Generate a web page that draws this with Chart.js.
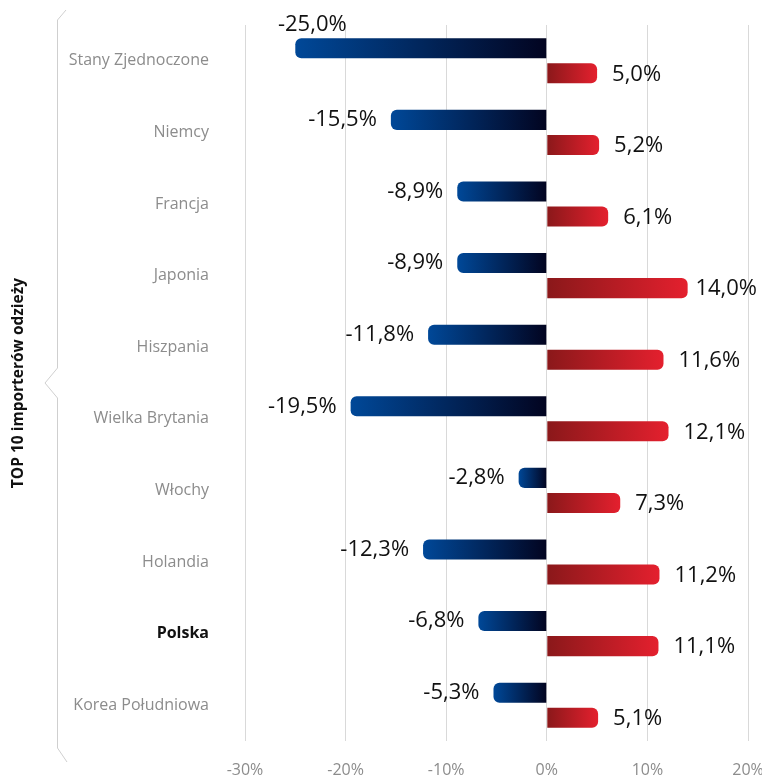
<!DOCTYPE html>
<html>
<head>
<meta charset="utf-8">
<script src="https://cdn.jsdelivr.net/npm/chart.js@4"></script>
<style>
  html, body { margin: 0; padding: 0; background: #fff; }
  #wrap { width: 762px; height: 779px; position: relative; }
</style>
</head>
<body>
<div id="wrap"><canvas id="chart"></canvas></div>
<script>
const categories = ['Stany Zjednoczone', 'Niemcy', 'Francja', 'Japonia', 'Hiszpania',
  'Wielka Brytania', 'Włochy', 'Holandia', 'Polska', 'Korea Południowa'];
const declines = [-25.0, -15.5, -8.9, -8.9, -11.8, -19.5, -2.8, -12.3, -6.8, -5.3];
const gains = [5.0, 5.2, 6.1, 14.0, 11.6, 12.1, 7.3, 11.2, 11.1, 5.1];
const xTicks = [-30, -20, -10, 0, 10, 20];
const axisTitle = 'TOP 10 importerów odzieży';
const highlight = 'Polska';

const fmt = v => v.toFixed(1).replace('.', ',') + '%';

// gradient along each bar, from its outer end to zero
function barGradient(from, to) {
  return (c) => {
    if (c.type !== 'data') return from;
    const chart = c.chart;
    const xs = chart.scales.x;
    if (!xs || !chart.chartArea) return from;
    const x0 = xs.getPixelForValue(0);
    const x1 = xs.getPixelForValue(c.raw);
    if (x0 === x1) return from;
    const g = chart.ctx.createLinearGradient(x1, 0, x0, 0);
    g.addColorStop(0, from);
    g.addColorStop(1, to);
    return g;
  };
}

// brace on the left side
const bracePlugin = {
  id: 'brace',
  afterDraw(chart) {
    const ctx = chart.ctx;
    const { top, bottom } = chart.chartArea;
    const mid = (top + bottom) / 2;
    const x = 57.5;
    ctx.save();
    ctx.strokeStyle = '#cfcfcf';
    ctx.lineWidth = 1;
    ctx.beginPath();
    ctx.moveTo(66, top - 15);
    ctx.lineTo(x, top - 5);
    ctx.lineTo(x, mid - 15);
    ctx.lineTo(45, mid);
    ctx.lineTo(x, mid + 15);
    ctx.lineTo(x, bottom + 7);
    ctx.lineTo(67, bottom + 21);
    ctx.stroke();
    ctx.restore();
  }
};

// value labels next to the bars
const labelPlugin = {
  id: 'valueLabels',
  afterDatasetsDraw(chart) {
    const ctx = chart.ctx;
    ctx.save();
    ctx.font = '22px "Open Sans"';
    ctx.fillStyle = '#111';
    ctx.textBaseline = 'middle';
    chart.data.datasets.forEach((ds, di) => {
      chart.getDatasetMeta(di).data.forEach((bar, i) => {
        const v = ds.data[i];
        const txt = fmt(v);
        const w = ctx.measureText(txt).width;
        if (v < 0) {
          let right = bar.x - 14;
          if (right - w < chart.chartArea.left) {
            ctx.textAlign = 'center';
            ctx.fillText(txt, bar.x + 17, bar.y - bar.height / 2 - 14);
          } else {
            ctx.textAlign = 'right';
            ctx.fillText(txt, right, bar.y);
          }
        } else {
          let left = bar.x + 15;
          left = Math.min(left, chart.width - 5 - w);
          ctx.textAlign = 'left';
          ctx.fillText(txt, left, bar.y + 1);
        }
      });
    });
    ctx.restore();
  }
};

new Chart(document.getElementById('chart'), {
  type: 'bar',
  data: {
    labels: categories,
    datasets: [
      {
        data: declines,
        backgroundColor: barGradient('rgb(0,72,152)', 'rgb(2,4,32)'),
        borderRadius: 6,
        borderSkipped: 'start'
      },
      {
        data: gains,
        backgroundColor: barGradient('rgb(228,32,46)', 'rgb(138,24,26)'),
        borderRadius: 6,
        borderSkipped: 'start'
      }
    ]
  },
  options: {
    indexAxis: 'y',
    responsive: true,
    maintainAspectRatio: false,
    animation: false,
    categoryPercentage: 0.7,
    barPercentage: 0.8,
    layout: { padding: { top: 25, right: 14, bottom: 0, left: 0 } },
    plugins: {
      legend: { display: false },
      tooltip: { enabled: false }
    },
    scales: {
      x: {
        min: -30,
        max: 20,
        afterBuildTicks: s => { s.ticks = xTicks.map(v => ({ value: v })); },
        afterFit: s => { s.paddingLeft = 0; s.paddingRight = 0; s.height = 38; },
        grid: { color: '#d9d9d9', drawTicks: false },
        border: { display: false },
        ticks: {
          padding: 20,
          color: '#8c8c8c',
          font: { family: 'Open Sans', size: 16 },
          callback: v => v + '%'
        }
      },
      y: {
        afterFit: s => { s.width = 245; s.paddingTop = 0; s.paddingBottom = 0; },
        grid: { display: false, drawTicks: false },
        border: { display: false },
        ticks: {
          padding: 36,
          color: c => c.tick && c.tick.label === highlight ? '#111' : '#8c8c8c',
          font: c => ({
            family: 'Open Sans',
            size: 16,
            weight: c.tick && c.tick.label === highlight ? 'bold' : 'normal'
          })
        },
        title: {
          display: true,
          text: axisTitle,
          color: '#111',
          font: { family: 'Open Sans', size: 15.5, weight: 'bold' },
          padding: { top: 9, bottom: 0 }
        }
      }
    }
  },
  plugins: [bracePlugin, labelPlugin]
});
</script>
</body>
</html>
